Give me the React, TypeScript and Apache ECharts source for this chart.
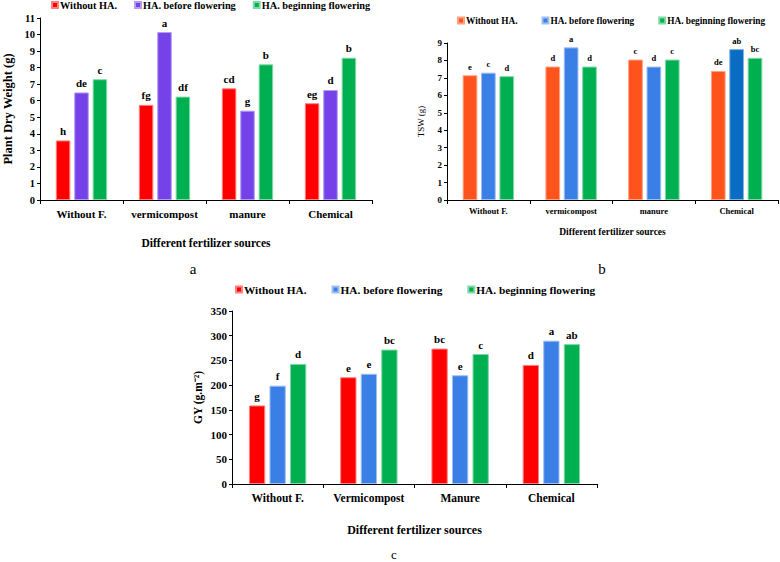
import React, { useEffect, useRef } from "react";
import * as echarts from "echarts";

const seriesNames = ["Without HA.", "HA. before flowering", "HA. beginning flowering"];

// Chart a: Plant Dry Weight (g)
const categoriesA = ["Without F.", "vermicompost", "manure", "Chemical"];
const dryWithoutHA = [3.6, 5.75, 6.75, 5.85];
const dryBeforeFlowering = [6.5, 10.15, 5.4, 6.65];
const dryBeginningFlowering = [7.3, 6.25, 8.2, 8.6];
const dryLettersWithout = ["h", "fg", "cd", "eg"];
const dryLettersBefore = ["de", "a", "g", "d"];
const dryLettersBeginning = ["c", "df", "b", "b"];

// Chart b: TSW (g)
const categoriesB = ["Without F.", "vermicompost", "manure", "Chemical"];
const tswWithoutHA = [7.15, 7.65, 8.05, 7.4];
const tswBeforeFlowering = [7.3, 8.75, 7.65, 8.65];
const tswBeginningFlowering = [7.1, 7.65, 8.05, 8.15];
const tswLettersWithout = ["e", "d", "c", "de"];
const tswLettersBefore = ["c", "a", "d", "ab"];
const tswLettersBeginning = ["d", "d", "c", "bc"];

// Chart c: GY (g.m-2)
const categoriesC = ["Without F.", "Vermicompost", "Manure", "Chemical"];
const gyWithoutHA = [159, 216, 274, 241];
const gyBeforeFlowering = [199, 223, 220, 290];
const gyBeginningFlowering = [243, 272, 263, 283];
const gyLettersWithout = ["g", "e", "bc", "d"];
const gyLettersBefore = ["f", "e", "e", "a"];
const gyLettersBeginning = ["d", "bc", "c", "ab"];

const SERIF = "Times New Roman, Liberation Serif, serif";

export default function App() {
  const ref = useRef<HTMLDivElement>(null);

  useEffect(() => {
    document.body.style.margin = "0";
    if (!ref.current) return;
    const chart = echarts.init(ref.current, null, { renderer: "svg" });

    const grids = [
      { left: 38, top: 18, width: 334, height: 182 },
      { left: 447, top: 43, width: 331, height: 157 },
      { left: 232, top: 311, width: 365, height: 173 },
    ];

    const cfg = [
      {
        cats: categoriesA,
        vals: [dryWithoutHA, dryBeforeFlowering, dryBeginningFlowering],
        letters: [dryLettersWithout, dryLettersBefore, dryLettersBeginning],
        colors: ["#ff0000", "#7442e8", "#00b050"],
        borders: ["#ff8080", "#b39af3", "#80d8a8"],
        max: 11, interval: 1,
        yName: "Plant Dry Weight (g)", yNameGap: 26, yNameSize: 12.5, yNameWeight: "bold",
        ySize: 10.5, xSize: 11, xMargin: 8, labelSize: 11,
        xName: "Different fertilizer sources", xNameGap: 37, xNameSize: 11.5,
        barWidth: 14.5, barGap: "27%",
      },
      {
        cats: categoriesB,
        vals: [tswWithoutHA, tswBeforeFlowering, tswBeginningFlowering],
        letters: [tswLettersWithout, tswLettersBefore, tswLettersBeginning],
        colors: ["#ff531e", "#3a7fe6", "#00b050"],
        borders: ["#ffa080", "#9dbff2", "#80d8a8"],
        max: 9, interval: 1,
        yName: "TSW (g)", yNameGap: 22, yNameSize: 9, yNameWeight: "normal",
        ySize: 9, xSize: 8.5, xMargin: 6, labelSize: 8.5,
        xName: "Different fertilizer sources", xNameGap: 27, xNameSize: 9.5,
        barWidth: 14.7, barGap: "25%",
      },
      {
        cats: categoriesC,
        vals: [gyWithoutHA, gyBeforeFlowering, gyBeginningFlowering],
        letters: [gyLettersWithout, gyLettersBefore, gyLettersBeginning],
        colors: ["#ff0000", "#3a7fe6", "#00b050"],
        borders: ["#ff8080", "#9dbff2", "#80d8a8"],
        max: 350, interval: 50,
        yName: "GY (g.m⁻²)", yNameGap: 28, yNameSize: 11.5, yNameWeight: "bold",
        ySize: 11, xSize: 11.5, xMargin: 8, labelSize: 11,
        xName: "Different fertilizer sources", xNameGap: 40, xNameSize: 12,
        barWidth: 16.3, barGap: "26%",
      },
    ];

    const xAxis: any[] = [];
    const yAxis: any[] = [];
    const series: any[] = [];

    cfg.forEach((c, gi) => {
      xAxis.push({
        type: "category",
        gridIndex: gi,
        data: c.cats,
        axisLine: { lineStyle: { color: "#000", width: 1 } },
        axisTick: { show: true, length: 4, lineStyle: { color: "#000" } },
        axisLabel: {
          interval: 0,
          color: "#000", fontFamily: SERIF, fontWeight: "bold",
          fontSize: c.xSize, margin: c.xMargin,
        },
        name: c.xName,
        nameLocation: "middle",
        nameGap: c.xNameGap,
        nameTextStyle: { color: "#000", fontFamily: SERIF, fontWeight: "bold", fontSize: c.xNameSize },
      });
      yAxis.push({
        type: "value",
        gridIndex: gi,
        min: 0, max: c.max, interval: c.interval,
        splitLine: { show: false },
        axisLine: { show: true, lineStyle: { color: "#000", width: 1 } },
        axisTick: { show: true, length: 3, lineStyle: { color: "#000" } },
        axisLabel: { color: "#000", fontFamily: SERIF, fontWeight: "bold", fontSize: c.ySize, margin: 5 },
        name: c.yName,
        nameLocation: "middle",
        nameRotate: 90,
        nameGap: c.yNameGap,
        nameTextStyle: { color: "#000", fontFamily: SERIF, fontWeight: c.yNameWeight, fontSize: c.yNameSize },
      });
      c.vals.forEach((vals, si) => {
        const letters = c.letters[si];
        series.push({
          type: "bar",
          name: `${"abc"[gi]}|${seriesNames[si]}`,
          xAxisIndex: gi,
          yAxisIndex: gi,
          barWidth: c.barWidth,
          barGap: c.barGap,
          itemStyle: { color: c.colors[si], borderColor: c.borders[si], borderWidth: 1 },
          data: vals.map((v, i) => {
            if (gi === 1 && si === 1 && i === 3) {
              return { value: v, itemStyle: { color: "#0a6cc2", borderColor: "#80b5e0" } };
            }
            return v;
          }),
          label: {
            show: true,
            position: "top",
            distance: 4,
            color: "#000",
            fontFamily: SERIF,
            fontWeight: "bold",
            fontSize: c.labelSize,
            formatter: (p: any) => letters[p.dataIndex],
          },
        });
      });
    });

    const legendBase = (gi: number, left: number, top: number, size: number, gap: number) => ({
      left, top,
      orient: "horizontal",
      padding: 0,
      icon: "rect",
      itemWidth: 6,
      itemHeight: 6,
      itemGap: gap,
      data: seriesNames.map((n) => `${"abc"[gi]}|${n}`),
      formatter: (name: string) => name.split("|")[1],
      textStyle: { color: "#000", fontFamily: SERIF, fontWeight: "bold", fontSize: size, padding: [0, 0, 0, -3] },
      selectedMode: false,
    });

    chart.setOption({
      animation: false,
      backgroundColor: "#fff",
      grid: grids.map((g) => ({ ...g, containLabel: false })),
      xAxis,
      yAxis,
      series,
      legend: [
        legendBase(0, 51, 0, 10.3, 17),
        legendBase(1, 457, 16, 9.3, 24),
        legendBase(2, 235, 284, 11.3, 25),
      ],
      title: [
        { text: "a", left: 188, top: 256, textAlign: "center", textStyle: { fontFamily: SERIF, fontWeight: "normal", fontSize: 15, color: "#000" } },
        { text: "b", left: 597, top: 256, textAlign: "center", textStyle: { fontFamily: SERIF, fontWeight: "normal", fontSize: 15, color: "#000" } },
        { text: "c", left: 394, top: 548, padding: 0, textAlign: "center", textStyle: { fontFamily: SERIF, fontWeight: "normal", fontSize: 13, color: "#000" } },
      ],
    });

    return () => chart.dispose();
  }, []);

  return <div ref={ref} style={{ width: 780, height: 562 }} />;
}
